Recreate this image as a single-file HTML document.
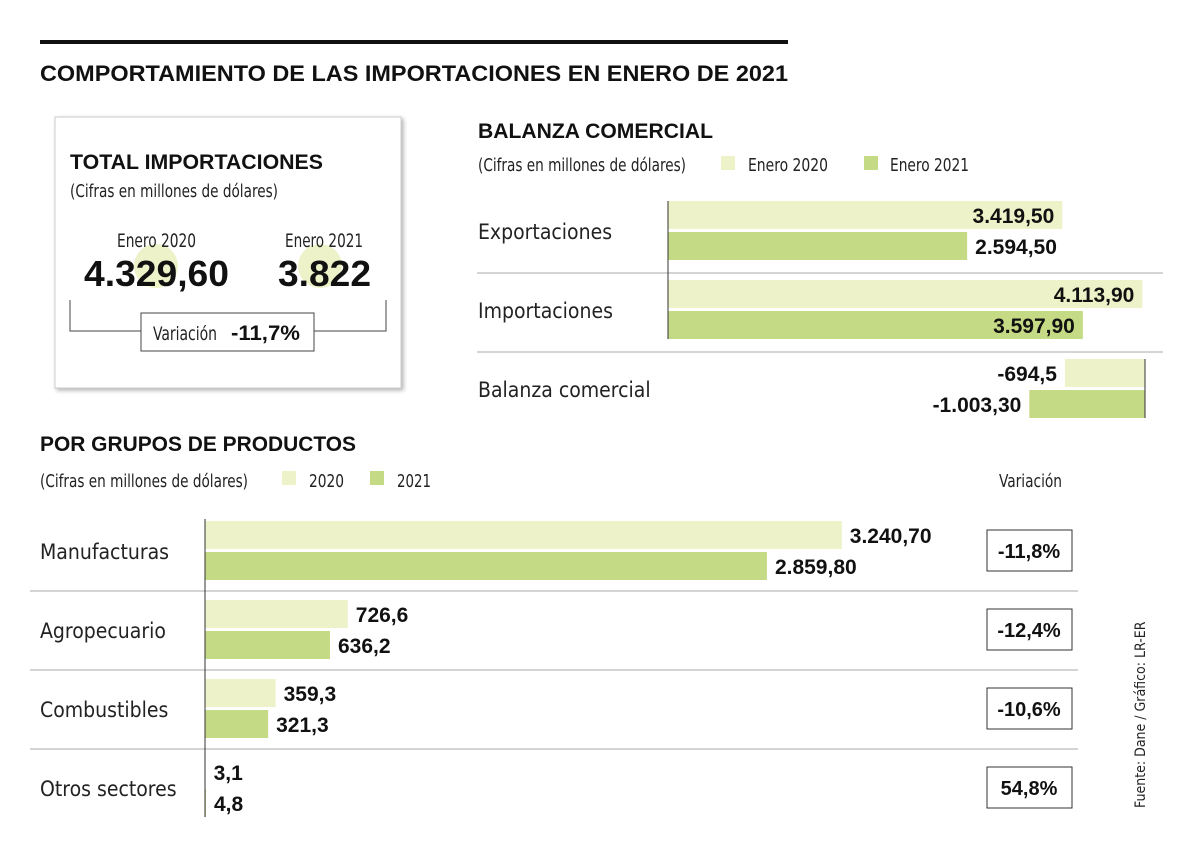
<!DOCTYPE html>
<html><head><meta charset="utf-8"><style>
body{margin:0;background:#fff}
svg{display:block}
text{font-family:"Liberation Sans Narrow","DejaVu Sans Condensed","Liberation Sans",sans-serif;fill:#222}
.b{font-weight:bold;font-family:"Liberation Sans","DejaVu Sans",sans-serif;fill:#111}
</style></head><body>
<svg id="c" width="1200" height="855" xmlns="http://www.w3.org/2000/svg">
<defs><filter id="sh" x="-5%" y="-5%" width="115%" height="115%"><feDropShadow dx="2" dy="2" stdDeviation="2" flood-color="#000" flood-opacity="0.3"/></filter></defs>
<rect x="40" y="40" width="748" height="4" fill="#111"/>
<text class="b" x="40" y="81" font-size="22" textLength="748" lengthAdjust="spacingAndGlyphs">COMPORTAMIENTO DE LAS IMPORTACIONES EN ENERO DE 2021</text>

<g>
<rect x="55" y="117" width="346" height="271" fill="#fff" stroke="#ccc" filter="url(#sh)"/>
<text class="b" x="70" y="169" font-size="21" textLength="253" lengthAdjust="spacingAndGlyphs">TOTAL IMPORTACIONES</text>
<text x="70" y="197" font-size="18" fill="#333" textLength="208" lengthAdjust="spacingAndGlyphs">(Cifras en millones de dólares)</text>
<circle cx="156" cy="266" r="22" fill="#eef2c8"/>
<circle cx="320" cy="266" r="22" fill="#eef2c8"/>
<text x="117" y="247" font-size="19" textLength="79" lengthAdjust="spacingAndGlyphs">Enero 2020</text>
<text x="285" y="247" font-size="19" textLength="78" lengthAdjust="spacingAndGlyphs">Enero 2021</text>
<text class="b" x="84" y="286" font-size="36" textLength="145" lengthAdjust="spacingAndGlyphs">4.329,60</text>
<text class="b" x="278" y="286" font-size="36" textLength="93" lengthAdjust="spacingAndGlyphs">3.822</text>
<polyline points="70,300 70,331 141,331" fill="none" stroke="#444"/>
<polyline points="314,331 386,331 386,300" fill="none" stroke="#444"/>
<rect x="141" y="313" width="173" height="38" fill="#fff" stroke="#444"/>
<text x="153" y="340" font-size="19" textLength="64" lengthAdjust="spacingAndGlyphs">Variación</text>
<text class="b" x="231" y="340" font-size="21" textLength="69" lengthAdjust="spacingAndGlyphs">-11,7%</text>
</g>

<text class="b" x="478" y="138" font-size="21" textLength="235" lengthAdjust="spacingAndGlyphs">BALANZA COMERCIAL</text>
<text x="478" y="171" font-size="18" fill="#333" textLength="208" lengthAdjust="spacingAndGlyphs">(Cifras en millones de dólares)</text>
<rect x="721" y="156" width="14" height="14" fill="#eef2c8"/>
<text x="748" y="171" font-size="18" textLength="80" lengthAdjust="spacingAndGlyphs">Enero 2020</text>
<rect x="864" y="156" width="14" height="14" fill="#c5da85"/>
<text x="890" y="171" font-size="18" textLength="79" lengthAdjust="spacingAndGlyphs">Enero 2021</text>

<text class="b" x="40" y="451" font-size="21" textLength="316" lengthAdjust="spacingAndGlyphs">POR GRUPOS DE PRODUCTOS</text>
<text x="40" y="487" font-size="18" fill="#333" textLength="208" lengthAdjust="spacingAndGlyphs">(Cifras en millones de dólares)</text>
<rect x="282" y="471" width="14" height="14" fill="#eef2c8"/>
<text x="309" y="487" font-size="18" textLength="35" lengthAdjust="spacingAndGlyphs">2020</text>
<rect x="370" y="471" width="14" height="14" fill="#c5da85"/>
<text x="397" y="487" font-size="18" textLength="34" lengthAdjust="spacingAndGlyphs">2021</text>
<text x="999" y="487" font-size="18" textLength="63" lengthAdjust="spacingAndGlyphs">Variación</text>
<text x="1145" y="808" font-size="14" fill="#444" transform="rotate(-90 1145 808)">Fuente: Dane / Gráfico: LR-ER</text>
<g id="bal"></g><g id="grp"></g>
</svg>
<script>
const balCats=["Exportaciones","Importaciones","Balanza comercial"];
const bal2020=[3419.5,4113.9,-694.5];
const bal2021=[2594.5,3597.9,-1003.3];
const balLbl2020=["3.419,50","4.113,90","-694,5"];
const balLbl2021=["2.594,50","3.597,90","-1.003,30"];
const grpCats=["Manufacturas","Agropecuario","Combustibles","Otros sectores"];
const grp2020=[3240.7,726.6,359.3,3.1];
const grp2021=[2859.8,636.2,321.3,4.8];
const grpLbl2020=["3.240,70","726,6","359,3","3,1"];
const grpLbl2021=["2.859,80","636,2","321,3","4,8"];
const grpVar=["-11,8%","-12,4%","-10,6%","54,8%"];
const NS="http://www.w3.org/2000/svg";
const L="#eef2c8",D="#c5da85";
function mk(p,t,a,txt){const e=document.createElementNS(NS,t);for(const k in a)e.setAttribute(k,a[k]);if(txt!=null)e.textContent=txt;p.appendChild(e);return e;}
const bg=document.getElementById('bal');
const bx=v=>668+v*0.1153, negAxis=1145, nx=v=>negAxis+v*0.1153;
const bTop=201, bStep=79, bH=28;
balCats.forEach((c,i)=>{
  const y=bTop+i*bStep;
  const t=mk(bg,'text',{x:478,y:y+38,'font-size':21},c);
  
  
  [[bal2020[i],balLbl2020[i],L,0],[bal2021[i],balLbl2021[i],D,31]].forEach(([v,lb,col,off])=>{
    let x0,w;
    if(v>=0){x0=668;w=bx(v)-668;}else{x0=nx(v);w=negAxis-x0;}
    const r=mk(bg,'rect',{x:x0,y:y+off,width:w,height:bH,fill:col});
    
    
    let tx,anc;
    if(v<0){tx=x0-8;anc='end';}
    else if(col===L||v>3500){tx=x0+w-8;anc='end';}
    else{tx=x0+w+8;anc='start';}
    const tt=mk(bg,'text',{class:'b',x:tx,y:y+off+22,'font-size':21,'text-anchor':anc},lb);
    
    
  });
  if(i<2){const s=mk(bg,'line',{x1:477,x2:1163,y1:y+72,y2:y+72,stroke:'#aaa'});
    
    }
});
mk(bg,'line',{x1:668,x2:668,y1:bTop,y2:bTop+bStep+59,stroke:'#333'});
mk(bg,'line',{x1:negAxis,x2:negAxis,y1:bTop+2*bStep,y2:bTop+2*bStep+59,stroke:'#333'});
const gg=document.getElementById('grp');
const gx=v=>205+v*0.1965;
const gTop=521, gStep=79, gH=28;
grpCats.forEach((c,i)=>{
  const y=gTop+i*gStep;
  const t=mk(gg,'text',{x:40,y:y+38,'font-size':21},c);
  
  
  [[grp2020[i],grpLbl2020[i],L,0],[grp2021[i],grpLbl2021[i],D,31]].forEach(([v,lb,col,off])=>{
    const w=gx(v)-205;
    const r=mk(gg,'rect',{x:205,y:y+off,width:w,height:gH,fill:col});
    
    
    const tt=mk(gg,'text',{class:'b',x:205+w+8,y:y+off+22,'font-size':21},lb);
    
    
  });
  const vb=mk(gg,'rect',{x:987,y:y+9,width:85,height:41,fill:'#fff',stroke:'#333'});
  
  
  const vt=mk(gg,'text',{class:'b',x:1029,y:y+37,'font-size':20,'text-anchor':'middle'},grpVar[i]);
  
  
  if(i<3){const s=mk(gg,'line',{x1:30,x2:1078,y1:y+70,y2:y+70,stroke:'#aaa'});
    
    }
});
mk(gg,'line',{x1:205,x2:205,y1:gTop-2,y2:gTop+3*gStep+59,stroke:'#333'});
</script>
</body></html>
